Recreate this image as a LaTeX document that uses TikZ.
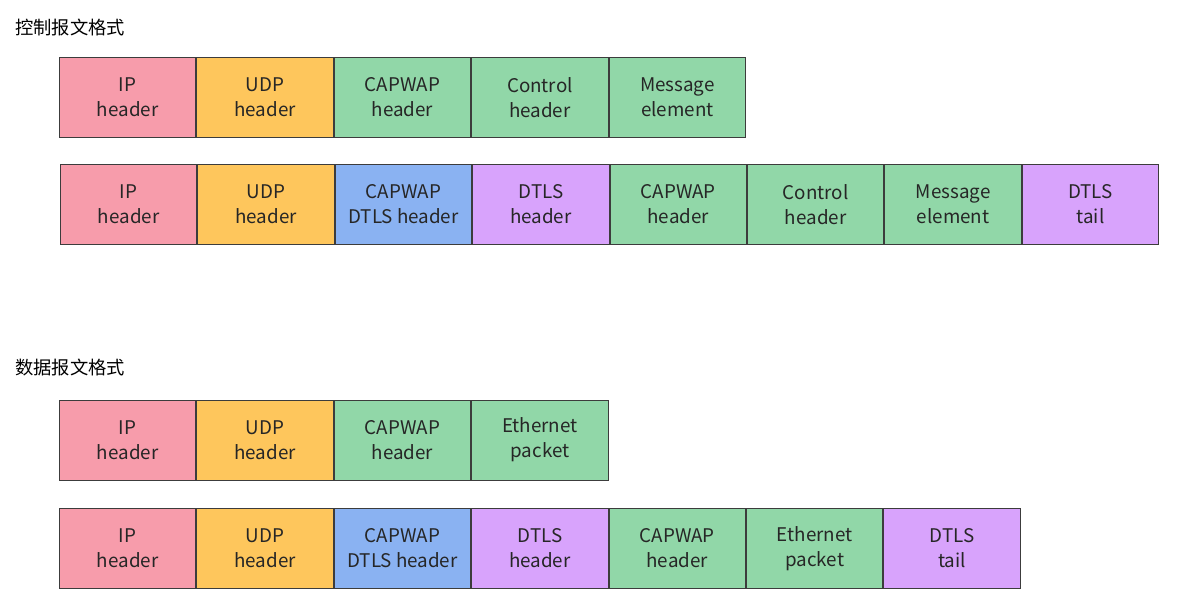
\documentclass[tikz,border=0pt]{standalone}
\usepackage{fontspec}
\setmainfont{Noto Sans CJK SC}
\usetikzlibrary{positioning}

\definecolor{ipcol}{RGB}{247,156,171}
\definecolor{udpcol}{RGB}{254,198,92}
\definecolor{capcol}{RGB}{145,215,168}
\definecolor{dtlscol}{RGB}{138,178,242}
\definecolor{tlscol}{RGB}{216,163,252}
\definecolor{edgecol}{RGB}{60,60,60}

\begin{document}
\begin{tikzpicture}[x=1pt,y=-1pt,
    field/.style={draw=edgecol,line width=1pt,minimum width=136.4pt,minimum height=80pt,
      inner sep=0pt,align=center,font=\fontsize{18.8}{25}\selectfont,text=black!85},
    ipfield/.style={field,fill=ipcol},
    udpfield/.style={field,fill=udpcol},
    capfield/.style={field,fill=capcol},
    dtlsfield/.style={field,fill=dtlscol},
    tlsfield/.style={field,fill=tlscol},
    title/.style={anchor=west,inner sep=0pt,font=\fontsize{18.3}{20}\selectfont}]
  \useasboundingbox (0,0) rectangle (1182,613);

  % control messages
  \node[title] (ctltitle) at (15,28) {控制报文格式};
  \node[ipfield,anchor=west] (c1ip) at (59,97.5) {IP\\header};
  \node[udpfield,right=0pt of c1ip] (c1udp) {UDP\\header};
  \node[capfield,right=0pt of c1udp] (c1cap) {CAPWAP\\header};
  \node[capfield,right=0pt of c1cap] (c1ctl) {Control\\header};
  \node[capfield,right=0pt of c1ctl] (c1msg) {Message\\element};

  \node[ipfield,anchor=west] (c2ip) at (60,204.5) {IP\\header};
  \node[udpfield,right=0pt of c2ip] (c2udp) {UDP\\header};
  \node[dtlsfield,right=0pt of c2udp] (c2dtls) {CAPWAP\\DTLS header};
  \node[tlsfield,right=0pt of c2dtls] (c2tlsh) {DTLS\\header};
  \node[capfield,right=0pt of c2tlsh] (c2cap) {CAPWAP\\header};
  \node[capfield,right=0pt of c2cap] (c2ctl) {Control\\header};
  \node[capfield,right=0pt of c2ctl] (c2msg) {Message\\element};
  \node[tlsfield,right=0pt of c2msg] (c2tail) {DTLS\\tail};

  % data messages
  \node[title] (datatitle) at (15,368) {数据报文格式};
  \node[ipfield,anchor=west] (d1ip) at (59,440) {IP\\header};
  \node[udpfield,right=0pt of d1ip] (d1udp) {UDP\\header};
  \node[capfield,right=0pt of d1udp] (d1cap) {CAPWAP\\header};
  \node[capfield,right=0pt of d1cap] (d1eth) {Ethernet\\packet};

  \node[ipfield,anchor=west] (d2ip) at (59,548.5) {IP\\header};
  \node[udpfield,right=0pt of d2ip] (d2udp) {UDP\\header};
  \node[dtlsfield,right=0pt of d2udp] (d2dtls) {CAPWAP\\DTLS header};
  \node[tlsfield,right=0pt of d2dtls] (d2tlsh) {DTLS\\header};
  \node[capfield,right=0pt of d2tlsh] (d2cap) {CAPWAP\\header};
  \node[capfield,right=0pt of d2cap] (d2eth) {Ethernet\\packet};
  \node[tlsfield,right=0pt of d2eth] (d2tail) {DTLS\\tail};
\end{tikzpicture}
\end{document}
